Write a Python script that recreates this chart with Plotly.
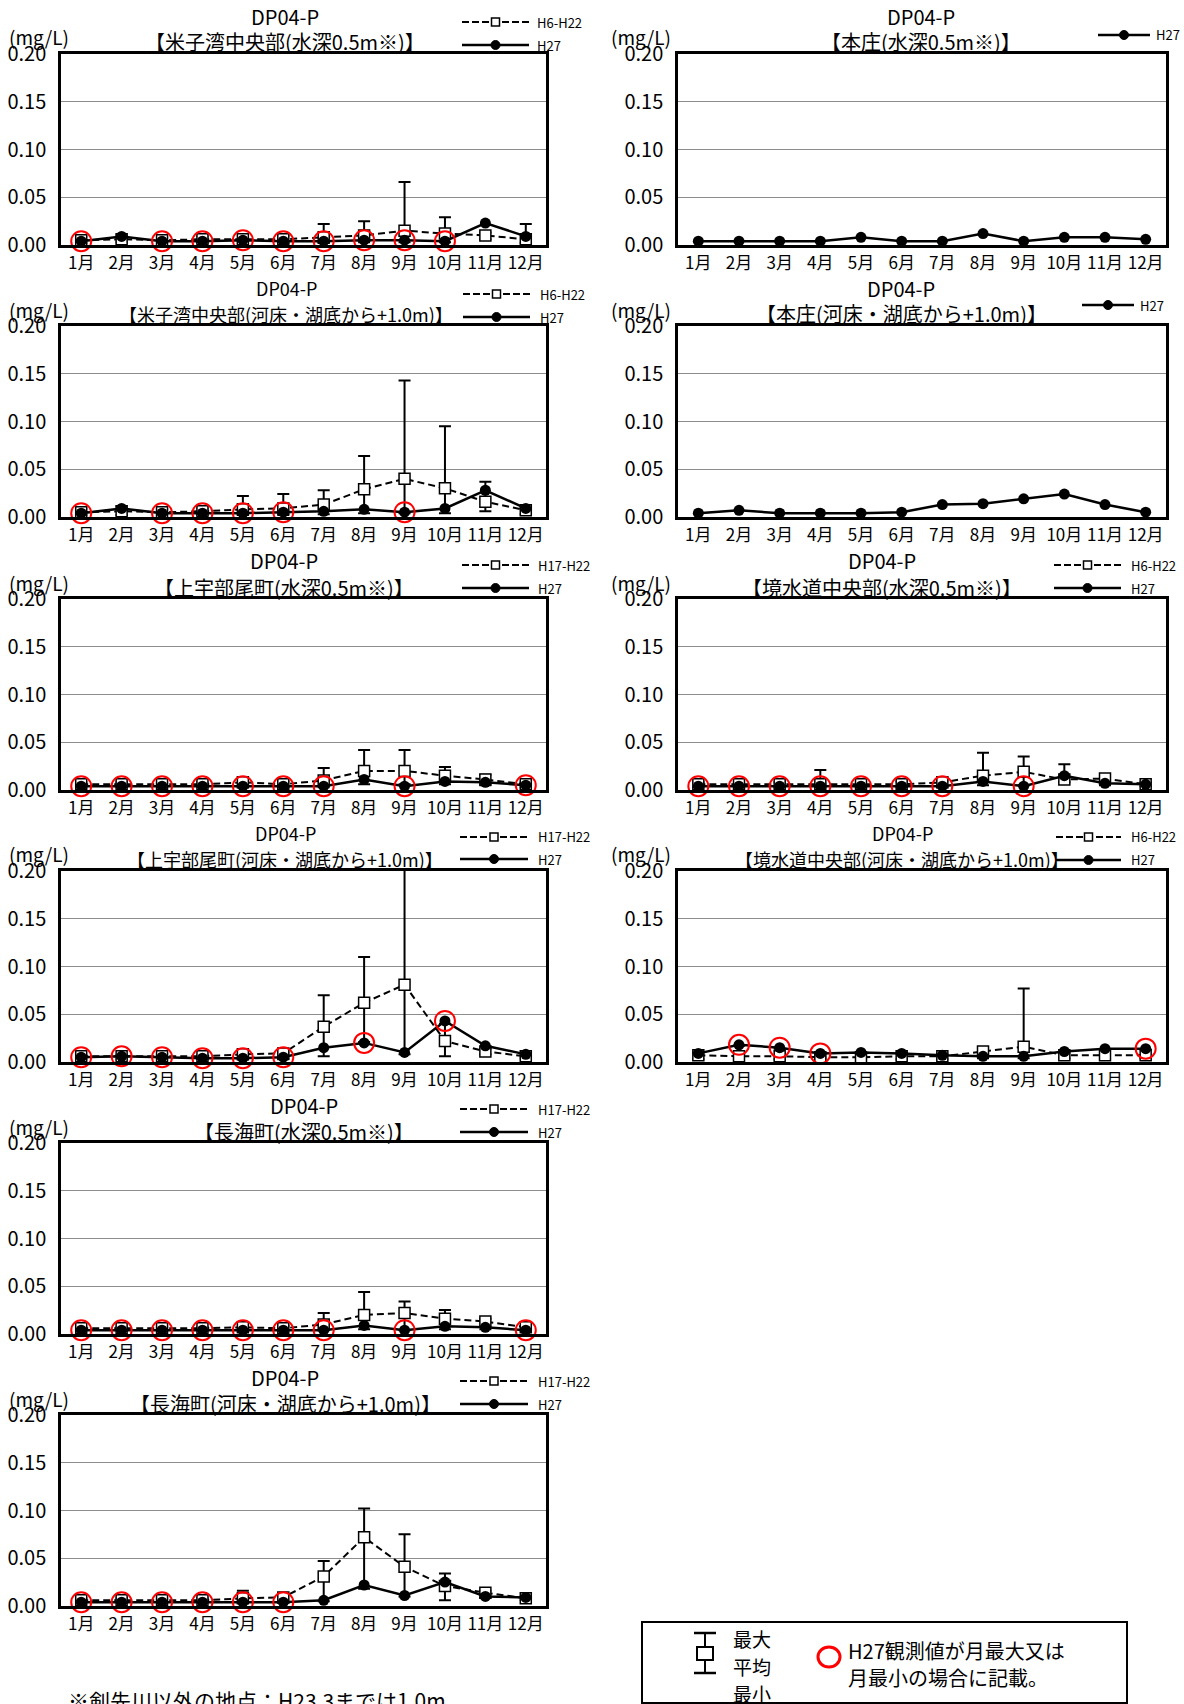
import plotly.graph_objects as go

W, H = 1184, 1704
FONT = "Noto Sans CJK JP"

# ---------------- data ----------------
months = ["1月", "2月", "3月", "4月", "5月", "6月", "7月", "8月", "9月", "10月", "11月", "12月"]
y_tickvals = [0.00, 0.05, 0.10, 0.15, 0.20]
y_ticktext = ["0.00", "0.05", "0.10", "0.15", "0.20"]

# P1 米子湾中央部(水深0.5m※)  H6-H22
p1_h27  = [0.004, 0.009, 0.004, 0.004, 0.005, 0.004, 0.004, 0.005, 0.005, 0.004, 0.023, 0.009]
p1_mean = [0.005, 0.006, 0.005, 0.006, 0.006, 0.006, 0.008, 0.010, 0.015, 0.012, 0.010, 0.006]
p1_max  = [0.009, 0.010, 0.009, 0.009, 0.011, 0.010, 0.022, 0.025, 0.066, 0.029, 0.013, 0.022]
p1_min  = [0.002, 0.003, 0.002, 0.002, 0.002, 0.002, 0.002, 0.003, 0.003, 0.003, 0.006, 0.002]
p1_circles = [1, 3, 4, 5, 6, 7, 8, 9, 10]

# P2 本庄(水深0.5m※)
p2_h27 = [0.004, 0.004, 0.004, 0.004, 0.008, 0.004, 0.004, 0.012, 0.004, 0.008, 0.008, 0.006]

# P3 米子湾中央部(河床・湖底から+1.0m)  H6-H22
p3_h27  = [0.004, 0.009, 0.004, 0.004, 0.004, 0.005, 0.006, 0.008, 0.005, 0.009, 0.028, 0.009]
p3_mean = [0.005, 0.006, 0.005, 0.006, 0.008, 0.009, 0.013, 0.029, 0.040, 0.030, 0.016, 0.007]
p3_max  = [0.009, 0.011, 0.009, 0.009, 0.022, 0.024, 0.028, 0.064, 0.143, 0.095, 0.037, 0.010]
p3_min  = [0.002, 0.002, 0.002, 0.002, 0.002, 0.002, 0.003, 0.004, 0.004, 0.004, 0.006, 0.003]
p3_circles = [1, 3, 4, 5, 6, 9]

# P4 本庄(河床・湖底から+1.0m)
p4_h27 = [0.004, 0.007, 0.004, 0.004, 0.004, 0.005, 0.013, 0.014, 0.019, 0.024, 0.013, 0.005]

# P5 上宇部尾町(水深0.5m※)  H17-H22
p5_h27  = [0.004, 0.004, 0.004, 0.004, 0.004, 0.004, 0.004, 0.011, 0.004, 0.009, 0.008, 0.005]
p5_mean = [0.006, 0.006, 0.006, 0.006, 0.008, 0.006, 0.010, 0.020, 0.020, 0.015, 0.011, 0.006]
p5_max  = [0.008, 0.008, 0.008, 0.008, 0.011, 0.009, 0.023, 0.042, 0.042, 0.024, 0.016, 0.008]
p5_min  = [0.003, 0.003, 0.003, 0.003, 0.003, 0.003, 0.003, 0.006, 0.006, 0.006, 0.005, 0.003]
p5_circles = [1, 2, 3, 4, 5, 6, 7, 9, 12]

# P6 境水道中央部(水深0.5m※)  H6-H22
p6_h27  = [0.004, 0.004, 0.004, 0.004, 0.004, 0.004, 0.004, 0.009, 0.004, 0.015, 0.007, 0.006]
p6_mean = [0.006, 0.006, 0.006, 0.006, 0.006, 0.006, 0.008, 0.015, 0.019, 0.011, 0.012, 0.006]
p6_max  = [0.008, 0.008, 0.008, 0.021, 0.009, 0.009, 0.010, 0.039, 0.035, 0.027, 0.014, 0.008]
p6_min  = [0.003, 0.003, 0.003, 0.003, 0.003, 0.003, 0.003, 0.005, 0.005, 0.008, 0.005, 0.004]
p6_circles = [1, 2, 3, 4, 5, 6, 7, 9]

# P7 上宇部尾町(河床・湖底から+1.0m)  H17-H22
p7_h27  = [0.005, 0.006, 0.005, 0.004, 0.004, 0.005, 0.015, 0.020, 0.010, 0.043, 0.017, 0.008]
p7_mean = [0.006, 0.006, 0.006, 0.006, 0.008, 0.009, 0.037, 0.062, 0.081, 0.022, 0.011, 0.006]
p7_max  = [0.007, 0.007, 0.007, 0.007, 0.010, 0.010, 0.070, 0.110, 0.220, 0.040, 0.014, 0.008]
p7_min  = [0.003, 0.003, 0.003, 0.003, 0.003, 0.003, 0.006, 0.021, 0.008, 0.006, 0.008, 0.004]
p7_circles = [1, 2, 3, 4, 5, 6, 8, 10]

# P8 境水道中央部(河床・湖底から+1.0m)  H6-H22
p8_h27  = [0.009, 0.018, 0.015, 0.009, 0.010, 0.009, 0.007, 0.006, 0.006, 0.011, 0.014, 0.014]
p8_mean = [0.007, 0.006, 0.006, 0.005, 0.005, 0.006, 0.006, 0.011, 0.016, 0.007, 0.007, 0.007]
p8_max  = [0.010, 0.017, 0.014, 0.008, 0.009, 0.010, 0.008, 0.013, 0.077, 0.010, 0.012, 0.013]
p8_min  = [0.003, 0.003, 0.003, 0.003, 0.003, 0.003, 0.003, 0.004, 0.004, 0.004, 0.004, 0.004]
p8_circles = [2, 3, 4, 12]

# P9 長海町(水深0.5m※)  H17-H22
p9_h27  = [0.004, 0.004, 0.004, 0.004, 0.004, 0.004, 0.004, 0.009, 0.004, 0.008, 0.007, 0.004]
p9_mean = [0.006, 0.006, 0.006, 0.006, 0.007, 0.006, 0.010, 0.020, 0.022, 0.016, 0.013, 0.007]
p9_max  = [0.007, 0.007, 0.007, 0.007, 0.010, 0.008, 0.022, 0.044, 0.034, 0.025, 0.016, 0.008]
p9_min  = [0.004, 0.004, 0.004, 0.004, 0.004, 0.004, 0.004, 0.005, 0.004, 0.005, 0.005, 0.004]
p9_circles = [1, 2, 3, 4, 5, 6, 7, 9, 12]

# P10 長海町(河床・湖底から+1.0m)  H17-H22
p10_h27  = [0.004, 0.004, 0.004, 0.004, 0.004, 0.004, 0.006, 0.022, 0.011, 0.025, 0.010, 0.009]
p10_mean = [0.006, 0.006, 0.006, 0.006, 0.008, 0.009, 0.031, 0.072, 0.041, 0.021, 0.014, 0.008]
p10_max  = [0.008, 0.008, 0.008, 0.008, 0.016, 0.012, 0.047, 0.102, 0.075, 0.034, 0.016, 0.010]
p10_min  = [0.004, 0.004, 0.004, 0.004, 0.004, 0.004, 0.005, 0.018, 0.010, 0.006, 0.009, 0.006]
p10_circles = [1, 2, 3, 4, 5, 6]

panels = [
    dict(t1="DP04-P", t2="【米子湾中央部(水深0.5m※)】", h27=p1_h27, mean=p1_mean, vmax=p1_max, vmin=p1_min, circ=p1_circles, period="H6-H22"),
    dict(t1="DP04-P", t2="【本庄(水深0.5m※)】", h27=p2_h27, mean=None, period=None),
    dict(t1="DP04-P", t2="【米子湾中央部(河床・湖底から+1.0m)】", h27=p3_h27, mean=p3_mean, vmax=p3_max, vmin=p3_min, circ=p3_circles, period="H6-H22"),
    dict(t1="DP04-P", t2="【本庄(河床・湖底から+1.0m)】", h27=p4_h27, mean=None, period=None),
    dict(t1="DP04-P", t2="【上宇部尾町(水深0.5m※)】", h27=p5_h27, mean=p5_mean, vmax=p5_max, vmin=p5_min, circ=p5_circles, period="H17-H22"),
    dict(t1="DP04-P", t2="【境水道中央部(水深0.5m※)】", h27=p6_h27, mean=p6_mean, vmax=p6_max, vmin=p6_min, circ=p6_circles, period="H6-H22"),
    dict(t1="DP04-P", t2="【上宇部尾町(河床・湖底から+1.0m)】", h27=p7_h27, mean=p7_mean, vmax=p7_max, vmin=p7_min, circ=p7_circles, period="H17-H22"),
    dict(t1="DP04-P", t2="【境水道中央部(河床・湖底から+1.0m)】", h27=p8_h27, mean=p8_mean, vmax=p8_max, vmin=p8_min, circ=p8_circles, period="H6-H22"),
    dict(t1="DP04-P", t2="【長海町(水深0.5m※)】", h27=p9_h27, mean=p9_mean, vmax=p9_max, vmin=p9_min, circ=p9_circles, period="H17-H22"),
    dict(t1="DP04-P", t2="【長海町(河床・湖底から+1.0m)】", h27=p10_h27, mean=p10_mean, vmax=p10_max, vmin=p10_min, circ=p10_circles, period="H17-H22"),
]

# ---------------- layout geometry (pixels) ----------------
row_tops = [54, 326, 599, 871, 1143, 1415]
plot_h = 191
col_x = [(61, 546), (678, 1166)]
geom = [
    dict(col=0, row=0, tx=285, ts=20, ds=20, lx0=462, lx1=529, ltx=535, ly1=22, ly2=45),
    dict(col=1, row=0, tx=921, ts=20, ds=20, lx0=1098, lx1=1150, ltx=1154, ly1=None, ly2=35),
    dict(col=0, row=1, tx=286, ts=18, ds=18, lx0=463, lx1=530, ltx=538, ly1=22, ly2=45),
    dict(col=1, row=1, tx=901, ts=20, ds=20, lx0=1082, lx1=1134, ltx=1138, ly1=None, ly2=33),
    dict(col=0, row=2, tx=284, ts=20, ds=20, lx0=462, lx1=529, ltx=536, ly1=20, ly2=43),
    dict(col=1, row=2, tx=882, ts=20, ds=20, lx0=1054, lx1=1121, ltx=1129, ly1=20, ly2=43),
    dict(col=0, row=3, tx=285, ts=18, ds=18, lx0=460, lx1=528, ltx=536, ly1=20, ly2=42),
    dict(col=1, row=3, tx=902, ts=18, ds=18, lx0=1056, lx1=1121, ltx=1129, ly1=20, ly2=43),
    dict(col=0, row=4, tx=304, ts=20, ds=20, lx0=460, lx1=528, ltx=536, ly1=20, ly2=43),
    dict(col=0, row=5, tx=285, ts=20, ds=20, lx0=460, lx1=528, ltx=536, ly1=20, ly2=43),
]
row_origin = [0, 272, 545, 817, 1089, 1361]


def PX(x):
    return x / W


def PY(y):
    return 1 - y / H


fig = go.Figure()
annotations = []
shapes = []

for i, (p, g) in enumerate(zip(panels, geom)):
    k = i + 1
    xa = "x" if k == 1 else f"x{k}"
    ya = "y" if k == 1 else f"y{k}"
    x0, x1 = col_x[g["col"]]
    top = row_tops[g["row"]]
    bot = top + plot_h
    org = row_origin[g["row"]]

    fig.update_layout(**{
        ("xaxis" if k == 1 else f"xaxis{k}"): dict(
            domain=[PX(x0), PX(x1)], anchor=ya, type="category",
            categoryorder="array", categoryarray=months, range=[-0.5, 11.5],
            showline=True, mirror=True, linecolor="black", linewidth=2.5,
            showgrid=False, ticks="", tickangle=0, ticklabelstandoff=1, automargin=False,
            tickfont=dict(family=FONT, size=17, color="black"), zeroline=False, fixedrange=True),
        ("yaxis" if k == 1 else f"yaxis{k}"): dict(
            domain=[PY(bot), PY(top)], anchor=xa, range=[0, 0.20],
            tickvals=y_tickvals, ticktext=y_ticktext, automargin=False,
            showline=True, mirror=True, linecolor="black", linewidth=2.5,
            showgrid=True, gridcolor="#8c8c8c", gridwidth=1, ticks="", ticklabelstandoff=8,
            tickfont=dict(family=FONT, size=20, color="black"), zeroline=False, fixedrange=True),
    })

    if p["mean"] is not None:
        fig.add_trace(go.Scatter(
            x=months, y=p["mean"], xaxis=xa, yaxis=ya, mode="lines+markers",
            line=dict(color="black", width=2, dash="7px,4px"),
            marker=dict(symbol="square", size=11, color="white", line=dict(color="black", width=1.5)),
            error_y=dict(type="data", symmetric=False,
                         array=[mx - m for mx, m in zip(p["vmax"], p["mean"])],
                         arrayminus=[m - mn for m, mn in zip(p["mean"], p["vmin"])],
                         color="black", thickness=2, width=6),
            cliponaxis=True, name=p["period"]))
    fig.add_trace(go.Scatter(
        x=months, y=p["h27"], xaxis=xa, yaxis=ya, mode="lines+markers",
        line=dict(color="black", width=2.5),
        marker=dict(symbol="circle", size=11, color="black"),
        cliponaxis=False, name="H27"))
    if p["mean"] is not None:
        cm = p["circ"]
        fig.add_trace(go.Scatter(
            x=[months[m - 1] for m in cm], y=[p["h27"][m - 1] for m in cm],
            xaxis=xa, yaxis=ya, mode="markers",
            marker=dict(symbol="circle-open", size=20, color="red", line=dict(width=2)),
            cliponaxis=False, name="circle"))

    # titles
    annotations.append(dict(text=p["t1"], x=PX(g["tx"]), y=PY(top - 38), xref="paper", yref="paper",
                            xanchor="center", yanchor="middle", showarrow=False,
                            font=dict(family=FONT, size=g["ds"], color="black")))
    annotations.append(dict(text=p["t2"], x=PX(g["tx"]), y=PY(top - 12), xref="paper", yref="paper",
                            xanchor="center", yanchor="middle", showarrow=False,
                            font=dict(family=FONT, size=g["ts"], color="black")))
    # unit
    ux = 39 if g["col"] == 0 else 641
    annotations.append(dict(text="(mg/L)", x=PX(ux), y=PY(top - 17), xref="paper", yref="paper",
                            xanchor="center", yanchor="middle", showarrow=False,
                            font=dict(family=FONT, size=19, color="black")))

    # mini legend
    mx = (g["lx0"] + g["lx1"]) / 2
    if g["ly1"] is not None:
        yy = org + g["ly1"]
        shapes.append(dict(type="line", xref="paper", yref="paper", x0=PX(g["lx0"]), x1=PX(g["lx1"]),
                           y0=PY(yy), y1=PY(yy), line=dict(color="black", width=2, dash="7px,3px")))
        shapes.append(dict(type="rect", xref="paper", yref="paper", x0=PX(mx - 4), x1=PX(mx + 4),
                           y0=PY(yy + 4), y1=PY(yy - 4), fillcolor="white", line=dict(color="black", width=1.5)))
        annotations.append(dict(text=p["period"], x=PX(g["ltx"]), y=PY(yy), xref="paper", yref="paper",
                                xanchor="left", yanchor="middle", showarrow=False,
                                font=dict(family=FONT, size=13, color="black")))
    yy = org + g["ly2"]
    shapes.append(dict(type="line", xref="paper", yref="paper", x0=PX(g["lx0"]), x1=PX(g["lx1"]),
                       y0=PY(yy), y1=PY(yy), line=dict(color="black", width=2.5)))
    shapes.append(dict(type="circle", xref="paper", yref="paper", x0=PX(mx - 4.5), x1=PX(mx + 4.5),
                       y0=PY(yy + 4.5), y1=PY(yy - 4.5), fillcolor="black", line=dict(color="black", width=1)))
    annotations.append(dict(text="H27", x=PX(g["ltx"]), y=PY(yy), xref="paper", yref="paper",
                            xanchor="left", yanchor="middle", showarrow=False,
                            font=dict(family=FONT, size=13, color="black")))

# ---------------- bottom notes ----------------
annotations.append(dict(text="※剣先川以外の地点：H23.3までは1.0m", x=PX(66), y=PY(1700), xref="paper", yref="paper",
                        xanchor="left", yanchor="middle", showarrow=False,
                        font=dict(family=FONT, size=21, color="black")))

# explanation box
shapes.append(dict(type="rect", xref="paper", yref="paper", x0=PX(642), x1=PX(1127), y0=PY(1703), y1=PY(1622),
                   line=dict(color="black", width=2), fillcolor="rgba(0,0,0,0)"))
shapes.append(dict(type="line", xref="paper", yref="paper", x0=PX(705), x1=PX(705), y0=PY(1633), y1=PY(1673),
                   line=dict(color="black", width=2)))
for yb in (1633, 1673):
    shapes.append(dict(type="line", xref="paper", yref="paper", x0=PX(694), x1=PX(716), y0=PY(yb), y1=PY(yb),
                       line=dict(color="black", width=2.5)))
shapes.append(dict(type="rect", xref="paper", yref="paper", x0=PX(697), x1=PX(713), y0=PY(1660), y1=PY(1647),
                   fillcolor="white", line=dict(color="black", width=2)))
for txt, yy in (("最大", 1638), ("平均", 1666), ("最小", 1693)):
    annotations.append(dict(text=txt, x=PX(731), y=PY(yy), xref="paper", yref="paper",
                            xanchor="left", yanchor="middle", showarrow=False,
                            font=dict(family=FONT, size=19, color="black")))
shapes.append(dict(type="circle", xref="paper", yref="paper", x0=PX(818), x1=PX(840), y0=PY(1667), y1=PY(1647),
                   line=dict(color="red", width=3)))
annotations.append(dict(text="H27観測値が月最大又は", x=PX(846), y=PY(1650), xref="paper", yref="paper",
                        xanchor="left", yanchor="middle", showarrow=False,
                        font=dict(family=FONT, size=20, color="black")))
annotations.append(dict(text="月最小の場合に記載。", x=PX(846), y=PY(1677), xref="paper", yref="paper",
                        xanchor="left", yanchor="middle", showarrow=False,
                        font=dict(family=FONT, size=20, color="black")))

fig.update_layout(width=W, height=H, margin=dict(l=0, r=0, t=0, b=0, pad=0),
                  plot_bgcolor="white", paper_bgcolor="white", showlegend=False,
                  annotations=annotations, shapes=shapes, font=dict(family=FONT))

fig.write_html("out.html", config={"displayModeBar": False},
               post_script="document.body.style.margin='0px';document.body.style.overflow='hidden';")
